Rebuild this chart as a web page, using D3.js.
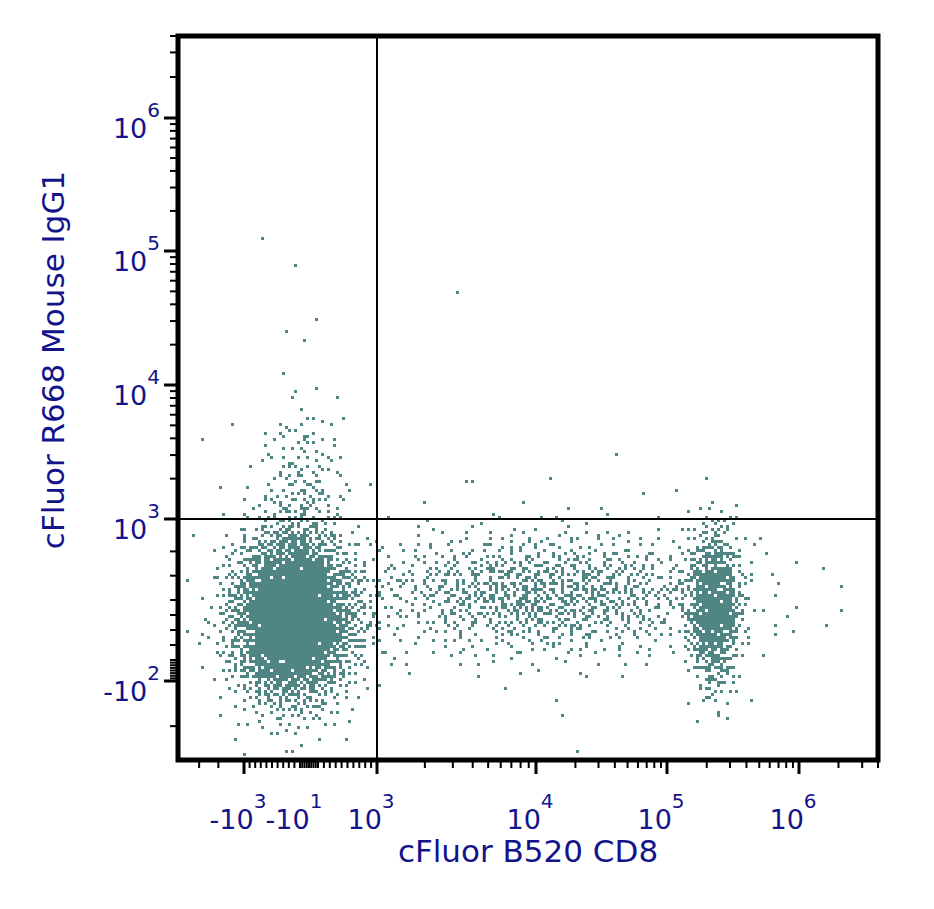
<!DOCTYPE html>
<html><head><meta charset="utf-8">
<script src="https://cdn.jsdelivr.net/npm/d3@7"></script>
<style>body{margin:0;background:#fff}</style></head>
<body><svg id="c" width="934" height="909"></svg>
<script>
// axis display codes: k => ±10^k
const xCodes = [-5.06, -3, -1, 1, 3, 4, 5, 6, 6.6];
const yCodes = [-2.7, -2, 0, 2, 3, 4, 5, 6, 6.6];
const xTickLabels = [{c:-3,t:"-10",e:"3"},{c:-1,t:"-10",e:"1"},{c:3,t:"10",e:"3"},{c:4,t:"10",e:"4"},{c:5,t:"10",e:"5"},{c:6,t:"10",e:"6"}];
const yTickLabels = [{c:-2,t:"-10",e:"2"},{c:3,t:"10",e:"3"},{c:4,t:"10",e:"4"},{c:5,t:"10",e:"5"},{c:6,t:"10",e:"6"}];
// populations: center (codes), spread (display px), event count
const clusterNames = ["CD8- main","CD8- IgG1 tail","CD8 mid band","CD8+ bright"];
const clusterCx = [-1.3, -1.0, 4.05, 5.35];
const clusterCy = [1.5, 3.25, 2.1, 1.8];
const clusterSx = [30, 22, 95, 13];
const clusterSy = [42, 45, 32, 40];
const clusterN = [3200, 160, 1100, 750];
// isolated events (codes)
const outX = [-2.4,-1.5,-1.2,-0.7,0.5,-2.2,-4.3,-4.6,3.5,3.55,4.8,4.6,3.6,-3.3,4.2,5.3,5.9,6.2,-0.6,1.5,-2.5,4.3];
const outY = [5.1,4.4,4.9,4.35,4.5,3.5,3.6,2.8,4.7,3.3,3.2,3.5,3.3,-2.5,-2.3,-2.0,1.5,1.2,3.6,3.6,-2.0,-2.6];
const quadX = 3, quadY = 3;

const svg = d3.select("#c");
const L=178,R=878,T=36,B=760;
const x = d3.scaleLinear().domain(xCodes).range([178,244,300,318,377,536,667,799,878]);
const y = d3.scaleLinear().domain(yCodes).range([760,681,660,600,519,385,251,118,36]);

function halton(i,b){let f=1,r=0;while(i>0){f/=b;r+=f*(i%b);i=Math.floor(i/b);}return r;}
const dots=[];
let idx=1;
clusterN.forEach((n,k)=>{
  const px=x(clusterCx[k]), py=y(clusterCy[k]);
  for(let i=0;i<n;i++,idx++){
    const u=Math.max(1e-6,halton(idx,2)), v=halton(idx,3);
    const r=Math.sqrt(-2*Math.log(u));
    dots.push([px+clusterSx[k]*r*Math.cos(2*Math.PI*v), py+clusterSy[k]*r*Math.sin(2*Math.PI*v)]);
  }
});
outX.forEach((c,i)=>dots.push([x(c),y(outY[i])]));
const g=svg.append("g");
dots.filter(d=>d[0]>L+3&&d[0]<R-3&&d[1]>T+3&&d[1]<B-3).forEach(d=>{
  g.append("rect").attr("x",Math.round(d[0]/3)*3).attr("y",Math.round(d[1]/3)*3).attr("width",3).attr("height",3).attr("fill","#4f8582");
});

svg.append("line").attr("x1",x(quadX)).attr("x2",x(quadX)).attr("y1",T).attr("y2",B).attr("stroke","#000").attr("stroke-width",2);
svg.append("line").attr("x1",L).attr("x2",R).attr("y1",y(quadY)).attr("y2",y(quadY)).attr("stroke","#000").attr("stroke-width",2);
svg.append("rect").attr("x",L).attr("y",T).attr("width",R-L).attr("height",B-T).attr("fill","none").attr("stroke","#000").attr("stroke-width",5);

function minorCodes(lo,hi){const a=[];for(let d=lo;d<hi;d++)for(let k=2;k<=9;k++)a.push(d+Math.log10(k));return a;}
const xMajor=[-3,3,4,5,6], xMinor=minorCodes(3,6).concat([6.3,6.48,6.6,-4.4,-3.8]);
for(let c=-2.8;c<-1;c+=0.2)xMinor.push(c);
for(let c=-1;c<=1;c+=0.25)xMinor.push(c);
for(let c=1.2;c<3;c+=0.2)xMinor.push(c);
xMajor.forEach(c=>svg.append("line").attr("x1",x(c)).attr("x2",x(c)).attr("y1",B).attr("y2",B+14).attr("stroke","#000").attr("stroke-width",3));
xMinor.forEach(c=>svg.append("line").attr("x1",x(c)).attr("x2",x(c)).attr("y1",B).attr("y2",B+8).attr("stroke","#000").attr("stroke-width",2));
const yMajor=[-2,3,4,5,6], yMinor=minorCodes(3,6).concat([6.3,6.48,6.6,-2.4]);
[0.5,1,1.5,2,2.3,2.6].forEach(c=>yMinor.push(c));
for(let c=-2;c<=0;c+=0.25)yMinor.push(c);
yMajor.forEach(c=>svg.append("line").attr("x1",L).attr("x2",L-14).attr("y1",y(c)).attr("y2",y(c)).attr("stroke","#000").attr("stroke-width",3));
yMinor.forEach(c=>svg.append("line").attr("x1",L).attr("x2",L-8).attr("y1",y(c)).attr("y2",y(c)).attr("stroke","#000").attr("stroke-width",2));

const col="#13138a", ff="DejaVu Sans, Verdana, sans-serif";
xTickLabels.forEach(d=>{
  const t=svg.append("text").attr("x",x(d.c)-6).attr("y",829).attr("text-anchor","middle").attr("fill",col).attr("font-family",ff).attr("font-size",27);
  t.append("tspan").text(d.t);
  t.append("tspan").attr("dy",-21).attr("font-size",20).text(d.e);
});
yTickLabels.forEach(d=>{
  const t=svg.append("text").attr("x",160).attr("y",y(d.c)+20).attr("text-anchor","end").attr("fill",col).attr("font-family",ff).attr("font-size",27);
  t.append("tspan").text(d.t);
  t.append("tspan").attr("dy",-21).attr("font-size",20).text(d.e);
});
svg.append("text").attr("x",528).attr("y",862).attr("text-anchor","middle").attr("fill",col).attr("font-family",ff).attr("font-size",31).text("cFluor B520 CD8");
svg.append("text").attr("transform","translate(64,360) rotate(-90)").attr("text-anchor","middle").attr("fill",col).attr("font-family",ff).attr("font-size",31).text("cFluor R668 Mouse IgG1");
</script></body></html>
